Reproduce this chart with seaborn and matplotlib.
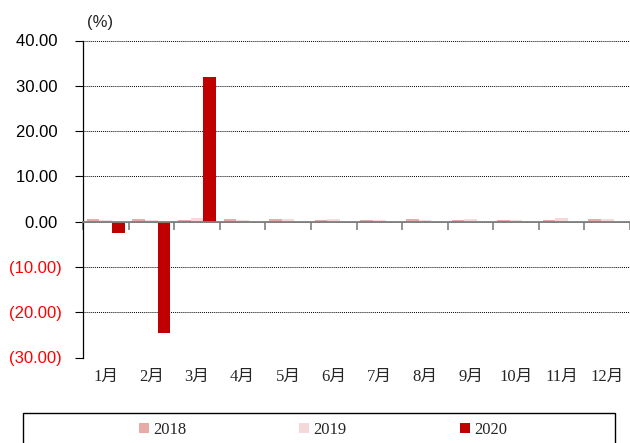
import numpy as np
import pandas as pd
import matplotlib
matplotlib.use("Agg")
import matplotlib.pyplot as plt
from matplotlib.patches import Rectangle
from matplotlib.ticker import FixedLocator
import seaborn as sns

months = ["1月", "2月", "3月", "4月", "5月", "6月", "7月", "8月", "9月", "10月", "11月", "12月"]
years = ["2018", "2019", "2020"]
v2018 = [0.6, 0.6, 0.35, 0.6, 0.6, 0.35, 0.35, 0.6, 0.35, 0.35, 0.35, 0.6]
v2019 = [0.3, 0.3, 0.85, 0.3, 0.6, 0.6, 0.35, 0.35, 0.6, 0.35, 0.85, 0.6]
v2020 = [-2.4, -24.7, 32.0, np.nan, np.nan, np.nan, np.nan, np.nan, np.nan, np.nan, np.nan, np.nan]
yticks = [-30, -20, -10, 0, 10, 20, 30, 40]
colors = ["#E8A9A9", "#F6D8D8", "#C00000"]

df = pd.DataFrame({
    "month": months * 3,
    "year": [y for y in years for _ in months],
    "value": v2018 + v2019 + v2020,
})

sns.set_style("white")
plt.rcParams["font.family"] = ["Liberation Sans", "DejaVu Sans"]

fig = plt.figure(figsize=(6.3, 4.43), dpi=100)
ax = fig.add_axes([83 / 630, 1 - 357.5 / 443, 547 / 630, 317 / 443])

sns.barplot(data=df, x="month", y="value", hue="year", order=months, hue_order=years,
            palette=colors, saturation=1, width=0.83, linewidth=0, errorbar=None,
            ax=ax, legend=True)

ax.set_xlim(-0.5, 11.5)
ax.set_ylim(-30, 40)
ax.set_xlabel("")
ax.set_ylabel("")

# y axis
ax.set_yticks(yticks)
labels = []
for t in yticks:
    if t < 0:
        labels.append(f"({abs(t):.2f})")
    else:
        labels.append(f"{t:.2f} ")
ax.set_yticklabels(labels, fontsize=12, family=["Liberation Sans", "DejaVu Sans"])
for lab, t in zip(ax.get_yticklabels(), yticks):
    lab.set_color("#FF0000" if t < 0 else "black")
ax.tick_params(axis="y", which="major", direction="out", length=6, width=0.8,
               color="black", pad=9, left=True)
ax.yaxis.grid(True, linestyle=(0, (1, 1)), color="black", linewidth=0.7)
ax.set_axisbelow(True)

# x axis at zero
ax.spines["top"].set_visible(False)
ax.spines["right"].set_visible(False)
ax.spines["left"].set_color("black")
ax.spines["left"].set_linewidth(0.9)
ax.spines["bottom"].set_position(("data", 0))
ax.spines["bottom"].set_color("#808080")
ax.spines["bottom"].set_linewidth(1.3)
ax.xaxis.set_minor_locator(FixedLocator(np.arange(-0.5, 12, 1)))
ax.tick_params(axis="x", which="minor", direction="out", length=6, width=1.2,
               color="#808080", bottom=True)
ax.tick_params(axis="x", which="major", length=0, pad=106, bottom=True)
for lab in ax.get_xticklabels():
    lab.set_fontsize(12)
    lab.set_family(["Liberation Serif", "Noto Sans CJK SC", "DejaVu Sans"])

fig.text(100 / 630, 1 - 22 / 443, "(%)", fontsize=12, ha="center", va="center",
         family=["Liberation Sans", "DejaVu Sans"])

# legend
handles, lbls = ax.get_legend_handles_labels()
ax.get_legend().remove()
leg = fig.legend(handles, lbls, loc="center", bbox_to_anchor=(323 / 630, 1 - 430 / 443),
                 ncol=3, frameon=False, handlelength=0.6, handleheight=0.6,
                 handletextpad=0.25, columnspacing=6.8,
                 prop={"family": "Liberation Serif", "size": 12})

fig.add_artist(Rectangle((23 / 630, -0.05), 592 / 630, (1 - 413 / 443) + 0.05,
                         transform=fig.transFigure, fill=False, edgecolor="black",
                         linewidth=1.0))

fig.savefig("out.png", dpi=100)
